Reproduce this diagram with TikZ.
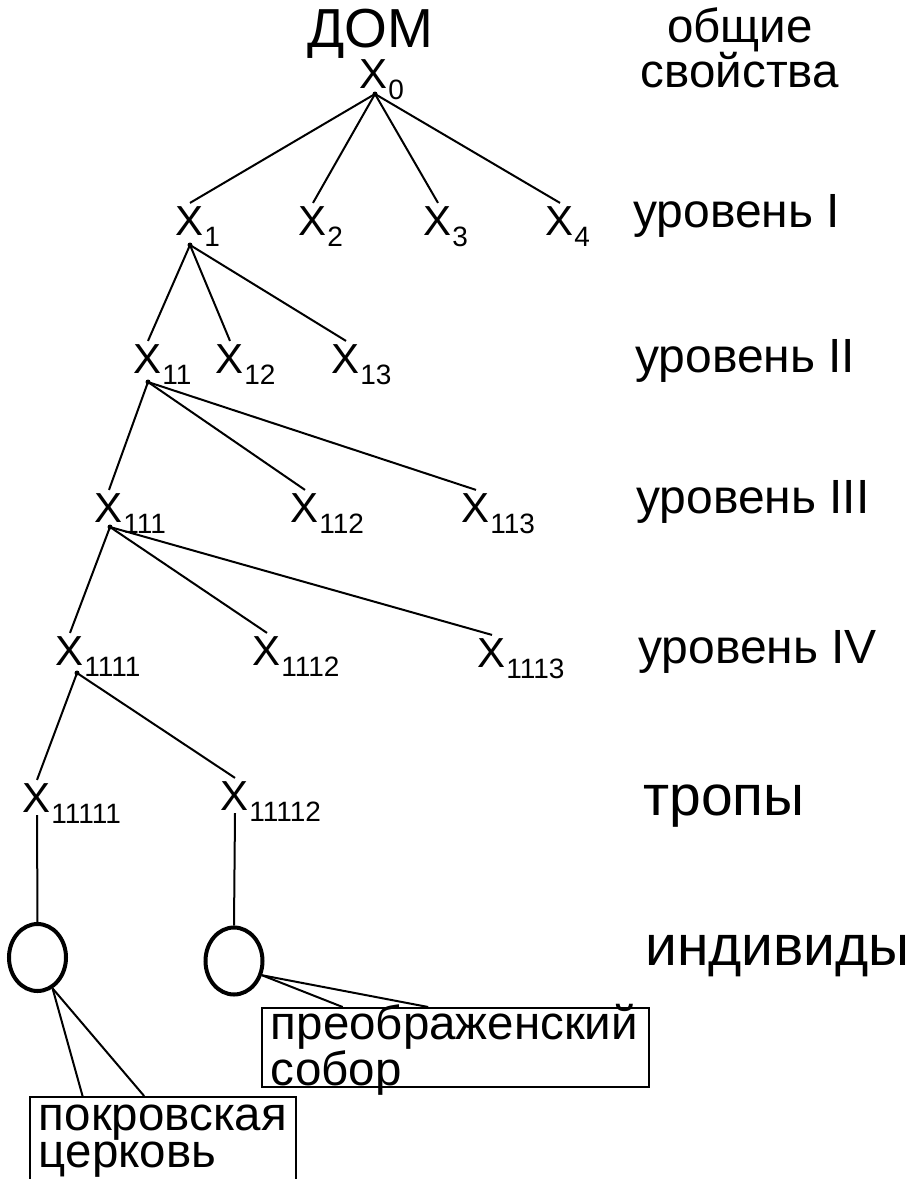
\documentclass[tikz,border=0pt]{standalone}
\usepackage{fontspec}
\setmainfont{Liberation Sans}
\usepackage{tikz}
\usetikzlibrary{positioning,shapes,calc}
\hyphenpenalty=10000
\exhyphenpenalty=10000

\tikzset{
  xn/.style={anchor=base, inner sep=3pt, font=\fontsize{42}{42}\selectfont},
  xsub/.style={anchor=base west, inner sep=0pt, font=\fontsize{28}{28}\selectfont},
  edge/.style={line width=2pt},
  lvl/.style={anchor=base west, inner sep=0pt, font=\fontsize{48}{48}\selectfont},
  biglvl/.style={anchor=base west, inner sep=0pt, font=\fontsize{57}{57}\selectfont},
  indiv/.style={ellipse, draw, line width=4pt, minimum width=57pt, minimum height=67pt, inner sep=0pt},
  callbox/.style={draw, line width=1.8pt, anchor=north west, align=left, inner xsep=9pt, inner ysep=0pt, font=\fontsize{47.5}{35}\selectfont},
}

\begin{document}
\begin{tikzpicture}[x=1pt, y=-1pt]
\useasboundingbox (0,0) rectangle (915,1179);

\node[anchor=base, inner sep=0pt, font=\fontsize{55}{55}\selectfont] (dom) at (370,47) {ДОМ};
\node[anchor=base, inner sep=0pt, text width=260pt, align=center, font=\fontsize{47.5}{40}\selectfont] (gen) at (740,42) {общие\\свойства};

% the tree of X nodes
\foreach \n/\px/\py/\s in {x0/374/88/0, x1/190/235/1, x2/313/235/2, x3/438/235/3, x4/560/235/4,
    x11/148/373/11, x12/230/373/12, x13/346/373/13,
    x111/109/522/111, x112/305/522/112, x113/476/522/113,
    x1111/70/665/1111, x1112/267/665/1112, x1113/492/667/1113,
    x11111/37/812/11111, x11112/235/810/11112} {
  \node[xn] (\n) at (\px,\py) {X};
  \node[xsub] (\n s) at ([shift={(-3pt,-11pt)}]\n.base east) {\s};
}

\foreach \n/\dx/\dy in {x0/1/6, x1/0/10, x11/0/9, x111/1/5, x1111/7/8} {
  \coordinate (\n d) at ([shift={(\dx pt,-\dy pt)}]\n.base);
  \fill (\n d) circle (2.5pt);
}

\foreach \p/\c in {x0/x1, x0/x2, x0/x3, x0/x4, x1/x11, x1/x12, x1/x13,
    x11/x111, x11/x112, x11/x113, x111/x1111, x111/x1112, x111/x1113,
    x1111/x11111, x1111/x11112}
  \draw[edge] (\p d) -- (\c.north);

% levels
\node[lvl] (lvl1) at (633,227) {уровень I};
\node[lvl] (lvl2) at (635,372) {уровень II};
\node[lvl] (lvl3) at (636,513) {уровень III};
\node[lvl] (lvl4) at (638,663) {уровень IV};
\node[biglvl] (trop) at (643,815) {тропы};
\node[biglvl] (indl) at (645,965) {индивиды};

% individuals
\node[indiv] (ind1) at (37.5,957.5) {};
\node[indiv] (ind2) at (234,961) {};
\draw[edge] (x11111.south) -- (ind1.north);
\draw[edge] (x11112.south) -- (ind2.north);

\begin{scope}
\clip (0,0) rectangle (915,1179);
\node[callbox, text width=248pt, text height=34pt, text depth=80pt] (pokr) at (29,1096) {покровская\\церковь};
\end{scope}
\node[callbox, text width=369pt, text height=32pt, text depth=47pt] (preo) at (261,1007) {преображенский\\собор};

\draw[edge] (ind1.-64) -- ($(pokr.north west)!0.2!(pokr.north east)$);
\draw[edge] (ind1.-64) -- ($(pokr.north west)!0.43!(pokr.north east)$);
\draw[edge] (ind2.-27) -- ($(preo.north west)!0.21!(preo.north east)$);
\draw[edge] (ind2.-27) -- ($(preo.north west)!0.43!(preo.north east)$);
\end{tikzpicture}
\end{document}
